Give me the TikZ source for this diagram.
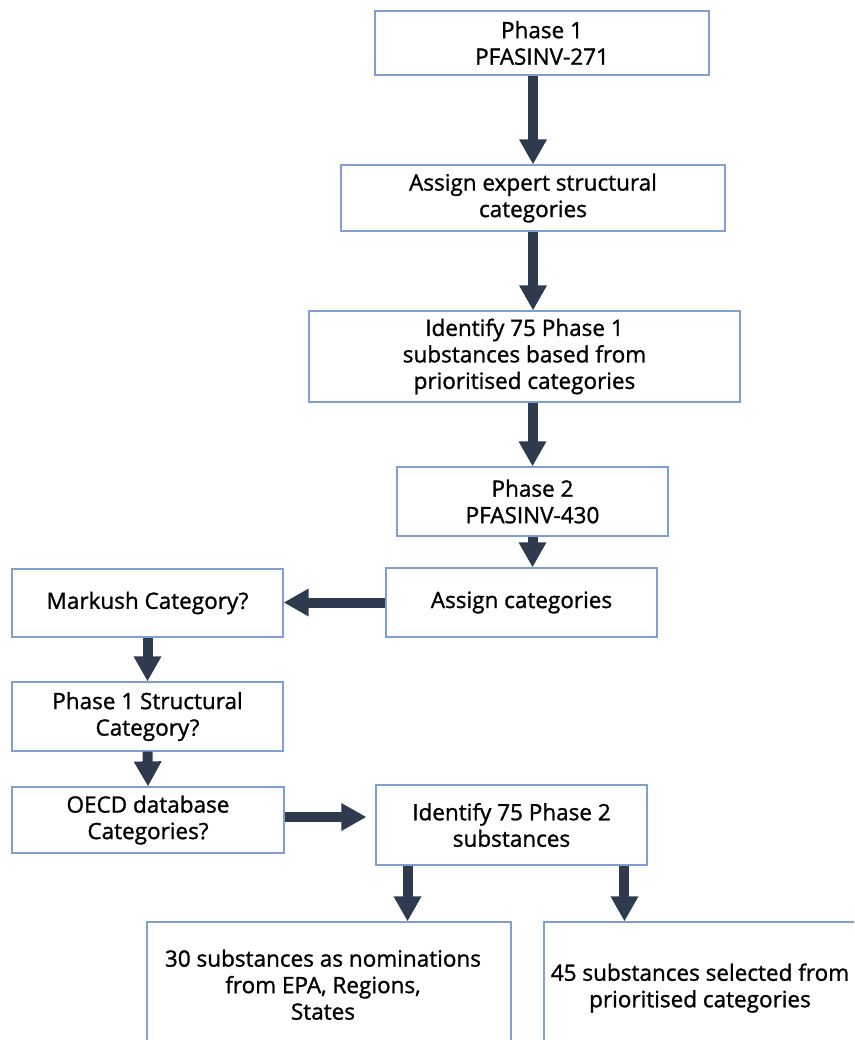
\documentclass[tikz,border=0pt]{standalone}
\usepackage{fontspec}
\setmainfont{Open Sans}
\newfontfamily\cfont{Open Sans}[FakeBold=1.2]
\usetikzlibrary{arrows.meta,calc}
\definecolor{boxline}{HTML}{7F9FD0}
\definecolor{arrowc}{HTML}{2E3B4E}
\tikzset{
  txt/.style={align=center, font=\cfont\fontsize{22.5}{26.5}\selectfont, text=black},
  box/.style={txt, draw=boxline, line width=1.2pt, fill=white, inner sep=0pt},
  flow/.style={draw=arrowc, line width=10pt, -{Triangle[width=26pt,length=25pt]}, arrowc}
}
\newcommand{\bx}[6]{%
  \node[box, minimum width={(#4)-(#2)}, minimum height={(#5)-(#3)}] (#1) at ({((#2)+(#4))/2},{((#3)+(#5))/2}) {#6};}
\begin{document}
\begin{tikzpicture}[x=1pt,y=-1pt]
\useasboundingbox (0,0) rectangle (854,1040);
\clip (0,0) rectangle (854,1040);
\fill[white] (0,0) rectangle (854,1040);
\bx{p1}{375}{11}{709}{75}{Phase 1\\PFASINV-271}
\bx{ae}{341}{165}{725}{231}{Assign expert structural\\categories}
\bx{id1}{309}{311}{740}{402}{Identify 75 Phase 1\\substances based from\\prioritised categories}
\bx{p2}{397}{467}{668}{536}{Phase 2\\PFASINV-430}
\bx{ac}{386}{568}{657}{637}{Assign categories}
\bx{mk}{12}{569}{283}{637}{Markush Category?}
\bx{ps}{12}{682}{283}{751}{Phase 1 Structural\\Category?}
\bx{oe}{12}{787}{284}{853}{OECD database\\Categories?}
\bx{id2}{376}{785}{647}{865}{Identify 75 Phase 2\\substances}
\bx{b1}{147}{922}{511}{1060}{}
\bx{b2}{544}{922}{880}{1060}{}
\node[txt, anchor=north] (t1) at (323,946) {30 substances as nominations\\from EPA, Regions,\\States};
\node[txt, anchor=north] (t2) at (700,960) {45 substances selected from\\prioritised categories};
% connectors
\draw[flow] (p1.south -| ae.north) -- (ae.north);
\draw[flow] (ae.south) -- (ae.south |- id1.north);
\draw[flow] (id1.south -| p2.north) -- (p2.north);
\draw[flow] (p2.south) -- (p2.south |- ac.north);
\draw[flow] (ac.west) -- (ac.west -| mk.east);
\draw[flow] (mk.south) -- (ps.north);
\draw[flow] (ps.south) -- (oe.north);
\draw[flow] ($(oe.east)+(0,-3)$) -- ($(oe.east -| id2.west)+(-9,-3)$);
\coordinate (l1) at ($(id2.south west)!0.118!(id2.south east)$);
\coordinate (l2) at ($(id2.south west)!0.915!(id2.south east)$);
\draw[flow] (l1) -- (l1 |- b1.north);
\draw[flow] (l2) -- (l2 |- b2.north);
\end{tikzpicture}
\end{document}
